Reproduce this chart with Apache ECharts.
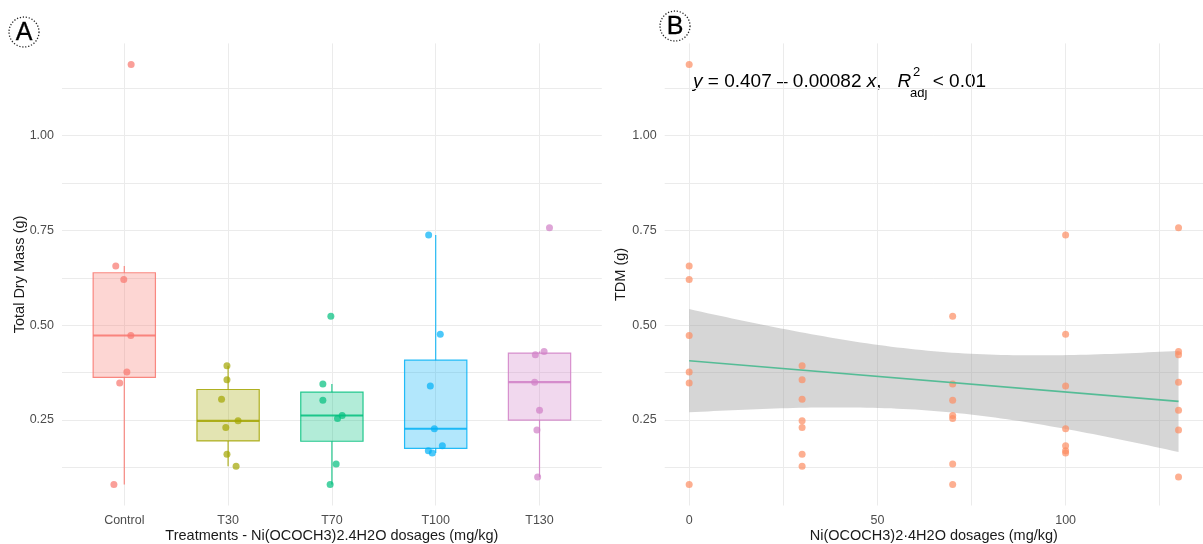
<!DOCTYPE html>
<html>
<head>
<meta charset="utf-8">
<script src="https://cdn.jsdelivr.net/npm/echarts@6/dist/echarts.min.js"></script>
<style>
  html, body { margin: 0; padding: 0; background: #fff; }
  #main { width: 1203px; height: 544px; }
</style>
</head>
<body>
<div id="main"></div>
<script>
var categories = ['Control', 'T30', 'T70', 'T100', 'T130'];
var doses = [0, 30, 70, 100, 130];

// total dry mass (g) per pot
var control = [1.188, 0.656, 0.621, 0.473, 0.377, 0.348, 0.080];
var t30 = [0.393, 0.356, 0.305, 0.248, 0.230, 0.160, 0.128];
var t70 = [0.524, 0.345, 0.302, 0.262, 0.254, 0.134, 0.080];
var t100 = [0.738, 0.476, 0.340, 0.227, 0.182, 0.169, 0.163];
var t130 = [0.757, 0.431, 0.422, 0.350, 0.276, 0.224, 0.100];

// horizontal jitter of the points in panel A, in category widths
var jitControl = [0.066, -0.082, -0.005, 0.063, 0.025, -0.044, -0.10];
var jitT30 = [-0.011, -0.011, -0.063, 0.096, -0.022, -0.011, 0.077];
var jitT70 = [-0.010, -0.087, -0.087, 0.099, 0.054, 0.041, -0.017];
var jitT100 = [-0.068, 0.044, -0.052, -0.013, 0.064, -0.071, -0.033];
var jitT130 = [0.096, 0.044, -0.040, -0.047, 0, -0.025, -0.018];

var yLabels = [0.25, 0.50, 0.75, 1.00];
var yGrid = [0.125, 0.25, 0.375, 0.50, 0.625, 0.75, 0.875, 1.00, 1.125];
var xLabelsB = [0, 50, 100];
var xGridB = [0, 25, 50, 75, 100, 125];

var groupColors = ['#F8766D', '#A3A500', '#00BF7D', '#00B0F6', '#D07FC6'];
var pointColorB = '#FC8D62';
var fitColor = '#55BC96';

var groups = [control, t30, t70, t100, t130];
var jitters = [jitControl, jitT30, jitT70, jitT100, jitT130];

function quantile(sorted, p) {
    var h = (sorted.length - 1) * p, lo = Math.floor(h);
    var hi = Math.min(lo + 1, sorted.length - 1);
    return sorted[lo] + (h - lo) * (sorted[hi] - sorted[lo]);
}

function boxStats(vals) {
    var s = vals.slice().sort(function (a, b) { return a - b; });
    var q1 = quantile(s, 0.25), med = quantile(s, 0.5), q3 = quantile(s, 0.75);
    var iqr = q3 - q1;
    var inside = s.filter(function (v) { return v >= q1 - 1.5 * iqr && v <= q3 + 1.5 * iqr; });
    return [inside[0], q1, med, q3, inside[inside.length - 1]];
}

function rgba(hex, a) {
    var n = parseInt(hex.slice(1), 16);
    return 'rgba(' + (n >> 16) + ',' + ((n >> 8) & 255) + ',' + (n & 255) + ',' + a + ')';
}

var boxData = groups.map(function (g, i) { return [i].concat(boxStats(g)); });

var pointsA = [], pointsB = [], allX = [], allY = [];
groups.forEach(function (g, i) {
    g.forEach(function (v, j) {
        pointsA.push({ value: [i + jitters[i][j], v], itemStyle: { color: groupColors[i] } });
        pointsB.push([doses[i], v]);
        allX.push(doses[i]);
        allY.push(v);
    });
});

// y range with ggplot's 5% expansion
var yMinData = Math.min.apply(null, allY), yMaxData = Math.max.apply(null, allY);
var yPad = (yMaxData - yMinData) * 0.05;
var yMin = yMinData - yPad, yMax = yMaxData + yPad;
var xPadB = (doses[doses.length - 1] - doses[0]) * 0.05;

// linear fit with 95% confidence band
var n = allX.length;
var mx = allX.reduce(function (a, b) { return a + b; }) / n;
var my = allY.reduce(function (a, b) { return a + b; }) / n;
var sxx = 0, sxy = 0;
for (var i = 0; i < n; i++) { sxx += (allX[i] - mx) * (allX[i] - mx); sxy += (allX[i] - mx) * (allY[i] - my); }
var slope = sxy / sxx, intercept = my - slope * mx;
var sse = 0;
for (var i = 0; i < n; i++) { var r = allY[i] - intercept - slope * allX[i]; sse += r * r; }
var se = Math.sqrt(sse / (n - 2));
var tCrit = 2.0345; // qt(0.975, 33)
var bandUpper = [], bandLower = [];
for (var k = 0; k <= 80; k++) {
    var x = doses[0] + (doses[doses.length - 1] - doses[0]) * k / 80;
    var fit = intercept + slope * x;
    var hw = tCrit * se * Math.sqrt(1 / n + (x - mx) * (x - mx) / sxx);
    bandUpper.push([x, fit + hw]);
    bandLower.push([x, fit - hw]);
}
var fitLine = [[doses[0], intercept + slope * doses[0]], [doses[doses.length - 1], intercept + slope * doses[doses.length - 1]]];

var FONT = '"Liberation Sans", Arial, sans-serif';
var tickText = { color: '#4D4D4D', fontSize: 12.5, fontFamily: FONT };
var titleText = { color: '#1A1A1A', fontSize: 14.5, fontFamily: FONT };
var gridLine = { show: true, lineStyle: { color: '#EBEBEB', width: 1 } };

// equation label pieces
var ctx = document.createElement('canvas').getContext('2d');
function textW(t, font) { ctx.font = font; return ctx.measureText(t).width; }
var eqSize = 19, eqSmall = 13;
var eqX = 693, eqY = 82;
var eqParts = [['y', true], [' = 0.407 \u2013 0.00082 ', false], ['x', true], [',   ', false], ['R', true]];
var eqGraphics = [];
var cx = eqX;
eqParts.forEach(function (p) {
    var font = (p[1] ? 'italic ' : '') + eqSize + 'px ' + FONT;
    eqGraphics.push({
        type: 'text', left: cx, top: eqY - eqSize / 2,
        style: { text: p[0], fontSize: eqSize, fontFamily: FONT, fontStyle: p[1] ? 'italic' : 'normal', fill: '#000' }
    });
    cx += textW(p[0], font);
});
eqGraphics.push({ type: 'text', left: cx + 2, top: 66, style: { text: '2', fontSize: eqSmall, fontFamily: FONT, fill: '#000' } });
eqGraphics.push({ type: 'text', left: cx - 1, top: 87, style: { text: 'adj', fontSize: eqSmall, fontFamily: FONT, fill: '#000' } });
cx += textW('adj', eqSmall + 'px ' + FONT) - 1;
eqGraphics.push({
    type: 'text', left: cx, top: eqY - eqSize / 2,
    style: { text: ' < 0.01', fontSize: eqSize, fontFamily: FONT, fill: '#000' }
});

function panelTag(letter, x, y) {
    return [
        { type: 'circle', shape: { cx: x, cy: y, r: 15 }, style: { fill: 'none', stroke: '#222', lineWidth: 1.3, lineDash: [1.2, 1.8] } },
        { type: 'text', x: x, y: y + 1, style: { text: letter, fontSize: 25, fontFamily: FONT, fill: '#000', align: 'center', verticalAlign: 'middle', stroke: '#000', lineWidth: 0.3 } }
    ];
}

var myChart = echarts.init(document.getElementById('main'));

myChart.setOption({
    backgroundColor: '#fff',
    animation: false,
    grid: [
        { left: 62, top: 43.4, width: 539.8, height: 462.1, outerBoundsMode: 'none' },
        { left: 664.7, top: 43.4, width: 538.3, height: 462.1, outerBoundsMode: 'none' }
    ],
    xAxis: [{
        type: 'value', gridIndex: 0, min: -0.6, max: 4.6,
        axisLine: { show: false },
        axisTick: { show: false, customValues: [0, 1, 2, 3, 4] },
        axisLabel: Object.assign({ customValues: [0, 1, 2, 3, 4], margin: 8.5, formatter: function (v) { return categories[Math.round(v)]; } }, tickText),
        splitLine: gridLine,
        name: 'Treatments - Ni(OCOCH3)2.4H2O dosages (mg/kg)', nameLocation: 'middle', nameGap: 23,
        nameMoveOverlap: false,
        nameTextStyle: titleText
    }, {
        type: 'value', gridIndex: 1, min: doses[0] - xPadB, max: doses[doses.length - 1] + xPadB,
        axisLine: { show: false },
        axisTick: { show: false, customValues: xGridB },
        axisLabel: Object.assign({ customValues: xLabelsB, margin: 8.5 }, tickText),
        splitLine: gridLine,
        name: 'Ni(OCOCH3)2\u00B74H2O dosages (mg/kg)', nameLocation: 'middle', nameGap: 23,
        nameMoveOverlap: false,
        nameTextStyle: titleText
    }],
    yAxis: [{
        type: 'value', gridIndex: 0, min: yMin, max: yMax,
        axisLine: { show: false },
        axisTick: { show: false, customValues: yGrid },
        axisLabel: Object.assign({ customValues: yLabels, margin: 8, formatter: function (v) { return v.toFixed(2); } }, tickText),
        splitLine: gridLine,
        name: 'Total Dry Mass (g)', nameLocation: 'middle', nameGap: 35,
        nameMoveOverlap: false,
        nameTextStyle: titleText
    }, {
        type: 'value', gridIndex: 1, min: yMin, max: yMax,
        axisLine: { show: false },
        axisTick: { show: false, customValues: yGrid },
        axisLabel: Object.assign({ customValues: yLabels, margin: 8, formatter: function (v) { return v.toFixed(2); } }, tickText),
        splitLine: gridLine,
        name: 'TDM (g)', nameLocation: 'middle', nameGap: 36,
        nameMoveOverlap: false,
        nameTextStyle: titleText
    }],
    series: [{
        type: 'custom', xAxisIndex: 0, yAxisIndex: 0,
        data: boxData,
        encode: { x: 0, y: [1, 2, 3, 4, 5] },
        renderItem: function (params, api) {
            var i = api.value(0);
            var col = groupColors[i];
            var w = api.size([0.6, 0])[0];
            var pLow = api.coord([i, api.value(1)]);
            var pQ1 = api.coord([i, api.value(2)]);
            var pMed = api.coord([i, api.value(3)]);
            var pQ3 = api.coord([i, api.value(4)]);
            var pHigh = api.coord([i, api.value(5)]);
            var stroke = rgba(col, 0.85);
            return {
                type: 'group',
                children: [
                    { type: 'line', shape: { x1: pQ3[0], y1: pQ3[1], x2: pHigh[0], y2: pHigh[1] }, style: { stroke: stroke, lineWidth: 1.2 } },
                    { type: 'line', shape: { x1: pQ1[0], y1: pQ1[1], x2: pLow[0], y2: pLow[1] }, style: { stroke: stroke, lineWidth: 1.2 } },
                    { type: 'rect', shape: { x: pQ3[0] - w / 2, y: pQ3[1], width: w, height: pQ1[1] - pQ3[1] }, style: { fill: rgba(col, 0.3), stroke: stroke, lineWidth: 1.2 } },
                    { type: 'line', shape: { x1: pMed[0] - w / 2, y1: pMed[1], x2: pMed[0] + w / 2, y2: pMed[1] }, style: { stroke: stroke, lineWidth: 2.2 } }
                ]
            };
        }
    }, {
        type: 'scatter', xAxisIndex: 0, yAxisIndex: 0,
        data: pointsA, symbolSize: 7,
        itemStyle: { opacity: 0.7 }
    }, {
        type: 'scatter', xAxisIndex: 1, yAxisIndex: 1,
        data: pointsB, symbolSize: 7,
        itemStyle: { color: pointColorB, opacity: 0.7 }
    }, {
        type: 'custom', xAxisIndex: 1, yAxisIndex: 1,
        data: [[doses[0], intercept]],
        renderItem: function (params, api) {
            var pts = bandUpper.map(function (p) { return api.coord(p); })
                .concat(bandLower.slice().reverse().map(function (p) { return api.coord(p); }));
            return { type: 'polygon', shape: { points: pts }, style: { fill: 'rgba(153,153,153,0.4)' } };
        }
    }, {
        type: 'line', xAxisIndex: 1, yAxisIndex: 1,
        data: fitLine, symbol: 'none',
        lineStyle: { color: fitColor, width: 1.7 }
    }],
    graphic: panelTag('A', 24, 32).concat(panelTag('B', 675, 26)).concat(eqGraphics)
});
</script>
</body>
</html>
